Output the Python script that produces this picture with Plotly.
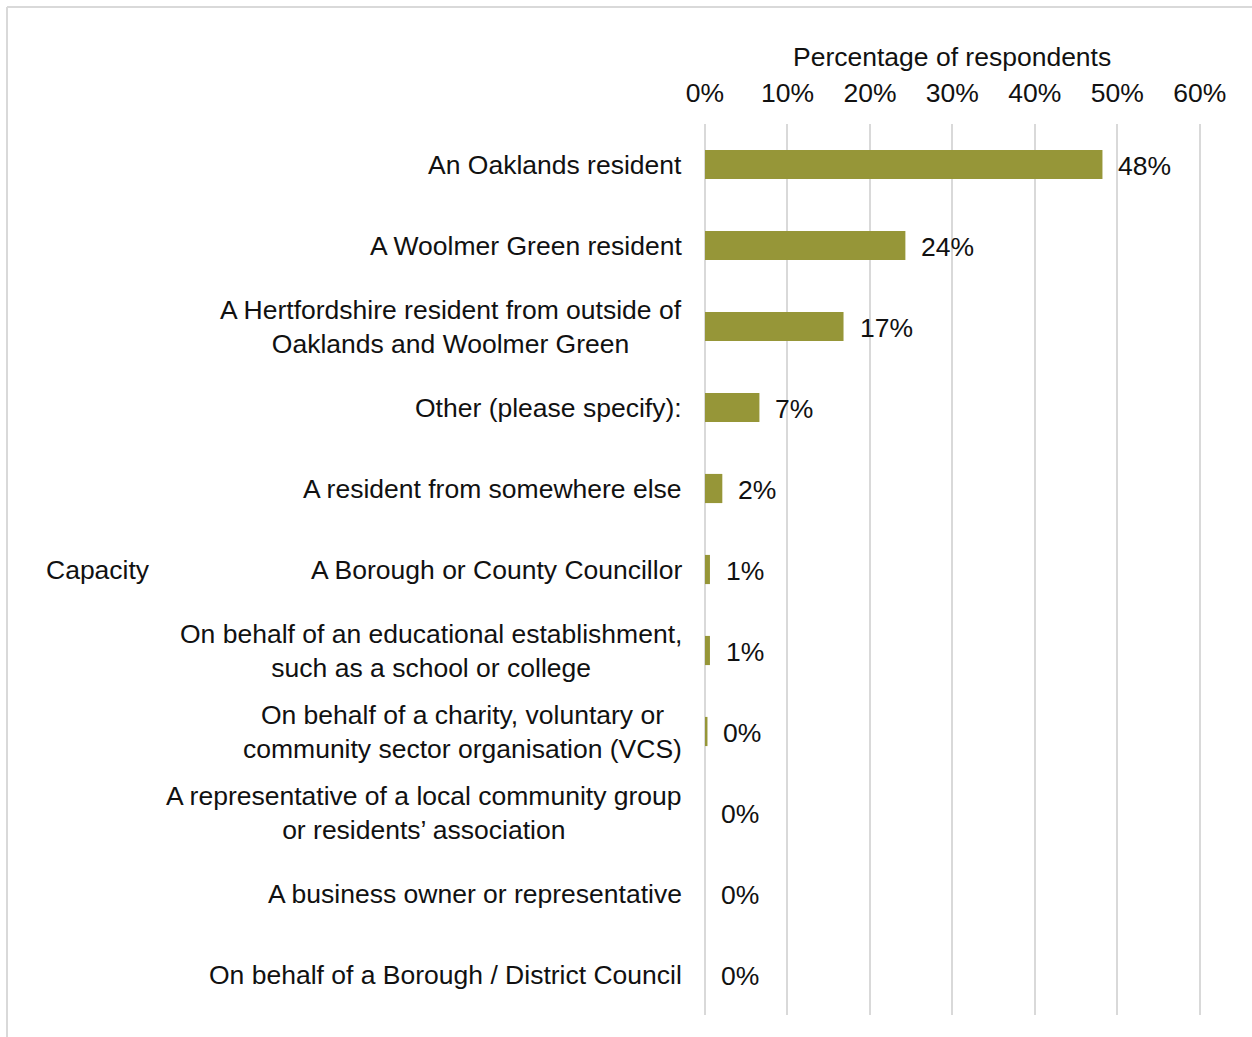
import plotly.graph_objects as go

# Survey responses: capacity in which people responded
categories = [
    "An Oaklands resident",
    "A Woolmer Green resident",
    "A Hertfordshire resident from outside of<br>Oaklands and Woolmer Green",
    "Other (please specify):",
    "A resident from somewhere else",
    "A Borough or County Councillor",
    "On behalf of an educational establishment,<br>such as a school or college",
    "On behalf of a charity, voluntary or<br>community sector organisation (VCS)",
    "A representative of a local community group<br>or residents\u2019 association",
    "A business owner or representative",
    "On behalf of a Borough / District Council",
]
percentages = [48.2, 24.3, 16.8, 6.6, 2.1, 0.6, 0.6, 0.3, 0.0, 0.0, 0.0]
tick_values = [0, 10, 20, 30, 40, 50, 60]
tick_labels = ["0%", "10%", "20%", "30%", "40%", "50%", "60%"]

axis_title = "Percentage of respondents"
group_title = "Capacity"

FONT = "Liberation Sans, Arial, sans-serif"
FSIZE = 26.5
TEXT = "#111111"
BAR = "#969638"
GRID = "#d9d9d9"

W, H = 1252, 1037
ML, MR, MT, MB = 705, 44, 124, 22
pw = W - ML - MR
ph = H - MT - MB
XMAX = 61

fig = go.Figure(
    go.Bar(
        x=percentages,
        y=categories,
        orientation="h",
        marker=dict(color=BAR, line=dict(width=0)),
        width=0.36,
        hoverinfo="skip",
    )
)

annotations = []
# category labels, centred line-by-line and right-aligned to the axis
for cat in categories:
    annotations.append(dict(
        x=0, y=cat, xref="x", yref="y", xanchor="right", yanchor="middle",
        xshift=-21, text=cat, showarrow=False, align="center",
        font=dict(family=FONT, size=FSIZE, color=TEXT),
    ))
# value labels to the right of each bar
for cat, v in zip(categories, percentages):
    annotations.append(dict(
        x=v, y=cat, xref="x", yref="y", xanchor="left", yanchor="middle",
        xshift=14, yshift=-1, text=f"{round(v):.0f}%", showarrow=False,
        font=dict(family=FONT, size=FSIZE, color=TEXT),
    ))
# group label on the left
annotations.append(dict(
    x=(44 - ML) / pw, y=0.5, xref="paper", yref="paper",
    xanchor="left", yanchor="middle", text=group_title, showarrow=False,
    font=dict(family=FONT, size=FSIZE, color=TEXT),
))
# axis title centred over the 0-60% scale
annotations.append(dict(
    x=(tick_values[0] + tick_values[-1]) / 2, y=1, xref="x", yref="paper",
    xanchor="center", yanchor="middle", yshift=67, text=axis_title,
    showarrow=False, font=dict(family=FONT, size=FSIZE, color=TEXT),
))

def px_x(p):
    return (p - ML) / pw

def px_y(p):
    return (H - MB - p) / ph

shapes = [
    # light frame along the top and left edges
    dict(type="line", xref="paper", yref="paper",
         x0=px_x(7), x1=px_x(W + 5), y0=px_y(7), y1=px_y(7),
         line=dict(color=GRID, width=2)),
    dict(type="line", xref="paper", yref="paper",
         x0=px_x(7), x1=px_x(7), y0=px_y(7), y1=px_y(H + 5),
         line=dict(color=GRID, width=2)),
]

fig.update_layout(
    width=W, height=H,
    margin=dict(l=ML, r=MR, t=MT, b=MB),
    paper_bgcolor="white", plot_bgcolor="white",
    showlegend=False,
    bargap=0.64,
    annotations=annotations,
    shapes=shapes,
    font=dict(family=FONT, size=FSIZE, color=TEXT),
    xaxis=dict(
        side="top", range=[0, XMAX], tickvals=tick_values, ticktext=tick_labels,
        showgrid=True, gridcolor=GRID, gridwidth=2,
        zeroline=True, zerolinecolor=GRID, zerolinewidth=2,
        showline=False, ticks="", ticklabelstandoff=16,
        tickfont=dict(family=FONT, size=FSIZE, color=TEXT),
        fixedrange=True,
    ),
    yaxis=dict(
        autorange="reversed", showticklabels=False, showgrid=False,
        zeroline=False, showline=False, ticks="", fixedrange=True,
    ),
)

fig.write_html("out.html")
